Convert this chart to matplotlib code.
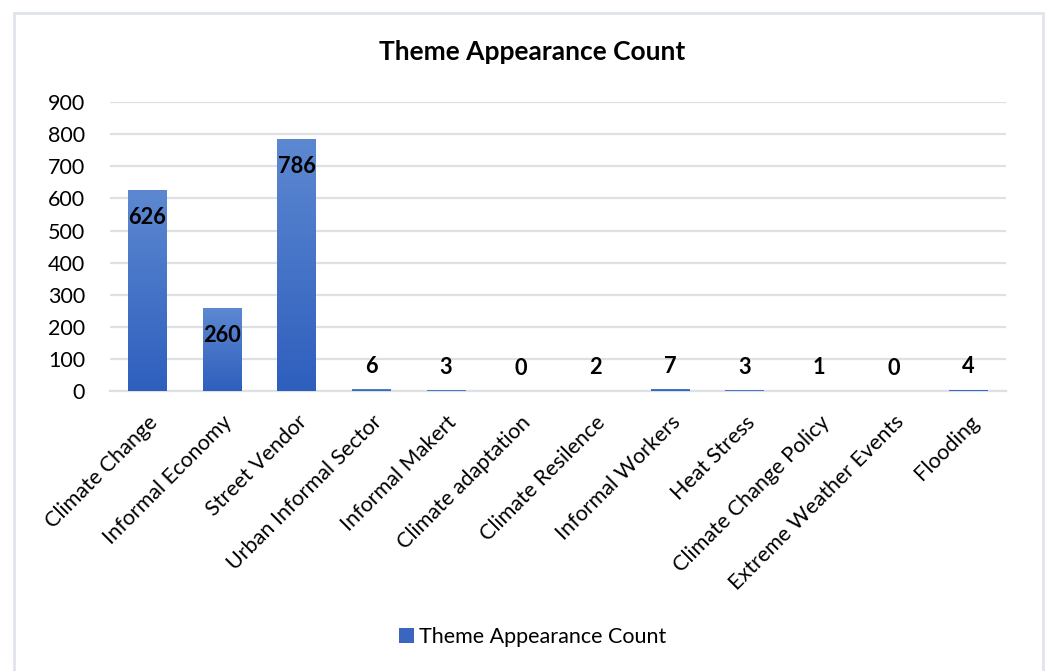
import numpy as np
import matplotlib.pyplot as plt
from matplotlib.colors import LinearSegmentedColormap
from matplotlib.patches import Rectangle, Patch

plt.rcParams['font.family'] = ['Lato', 'DejaVu Sans']

themes = ["Climate Change", "Informal Economy", "Street Vendor", "Urban Informal Sector",
          "Informal Makert", "Climate adaptation", "Climate Resilence", "Informal Workers",
          "Heat Stress", "Climate Change Policy", "Extreme Weather Events", "Flooding"]
counts = [626, 260, 786, 6, 3, 0, 2, 7, 3, 1, 0, 4]
yticks = [0, 100, 200, 300, 400, 500, 600, 700, 800, 900]

fig = plt.figure(figsize=(10.49, 6.71), dpi=100)
ax = fig.add_axes([0.105, 0.417, 0.854, 0.431])

# chart frame
fig.patches.append(Rectangle((14 / 1049, -0.05), 1029 / 1049, 1.05 - 13 / 671,
                             transform=fig.transFigure, fill=False,
                             edgecolor="#E0E5EB", linewidth=2))

x = np.arange(len(themes))
bars = ax.bar(x, counts, width=0.52, color="#3A66C0", zorder=2)

# vertical gradient in every bar, lighter at the top
cmap = LinearSegmentedColormap.from_list("bar", ["#2E5FBD", "#5D88D1"])
grad = np.linspace(0, 1, 256).reshape(-1, 1)
for b in bars:
    h = b.get_height()
    if h <= 0:
        continue
    im = ax.imshow(grad, cmap=cmap, origin="lower", aspect="auto",
                   extent=(b.get_x(), b.get_x() + b.get_width(), 0, max(h, 2.5)), zorder=3)
    im.set_clip_path(b)
    b.set_height(max(h, 2.5))

for xi, v in zip(x, counts):
    if v > 100:
        ax.annotate(str(v), (xi, v), xytext=(0, -20), textcoords="offset points",
                    ha="center", va="center", fontsize=15.7, fontweight="bold", zorder=4)
    else:
        ax.annotate(str(v), (xi, v), xytext=(0, 16.5), textcoords="offset points",
                    ha="center", va="center", fontsize=15.7, fontweight="bold", zorder=4)

ax.set_xlim(-0.5, len(themes) - 0.5)
ax.set_ylim(0, 900)
ax.set_yticks(yticks)
ax.yaxis.grid(True, color="#DDE1E6", linewidth=1.6, zorder=0)
ax.set_axisbelow(True)
for s in ["top", "right", "left"]:
    ax.spines[s].set_visible(False)
ax.spines["bottom"].set_color("#DDE1E6")
ax.spines["bottom"].set_linewidth(1.6)
ax.tick_params(axis="both", length=0, labelsize=15.5, colors="black")
ax.tick_params(axis="y", pad=18)
ax.set_xticks(x)
ax.set_xticklabels(themes, rotation=45, ha="right", rotation_mode="anchor", fontsize=15.5)
ax.tick_params(axis="x", pad=15)

fig.text(0.507, 0.922, "Theme Appearance Count", ha="center", va="center",
         fontsize=19, fontweight="bold")

fig.legend(handles=[Patch(facecolor="#3A66C0", label="Theme Appearance Count")],
           loc="center", bbox_to_anchor=(0.508, 0.05), frameon=False,
           fontsize=15.5, handlelength=0.7, handleheight=0.7, handletextpad=0.25)

fig.savefig("out.png", dpi=100, facecolor="white")
